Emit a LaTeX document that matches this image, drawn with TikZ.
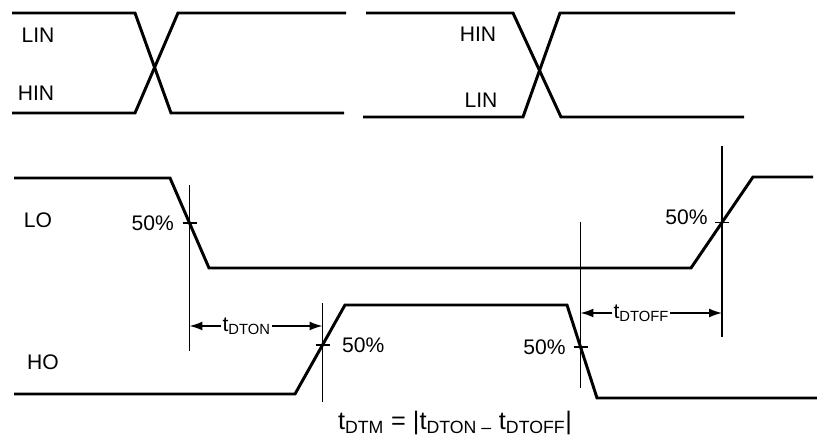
\documentclass[tikz,border=0pt]{standalone}
\usepackage{fontspec}
\setmainfont{Liberation Sans}
\usetikzlibrary{positioning,arrows.meta}

\begin{document}
\begin{tikzpicture}[
    wave/.style={line width=2.1pt, line join=miter},
    marker/.style={line width=1pt},
    lbl/.style={font=\fontsize{15}{18}\selectfont, inner sep=1pt},
    >={Latex[length=3.2mm,width=2.2mm]}]
    \useasboundingbox (0,0) rectangle (20.425,10.925);

    % inputs, first edge
    \draw[wave] (0.3,10.6) -- (3.375,10.6) -- (4.275,8.1) -- (8.6,8.1);
    \draw[wave] (0.3,8.1) -- (3.375,8.1) -- (4.45,10.6) -- (8.65,10.6);
    \node[lbl] (lin1) at (0.95,10.05) {LIN};
    \node[lbl] (hin1) at (0.9,8.6) {HIN};

    % inputs, second edge
    \draw[wave] (9.15,10.6) -- (12.825,10.6) -- (14.025,8.0) -- (18.6,8.0);
    \draw[wave] (9.075,8.0) -- (13.075,8.0) -- (14.0,10.6) -- (18.375,10.6);
    \node[lbl] (hin2) at (11.95,10.075) {HIN};
    \node[lbl] (lin2) at (12.025,8.425) {LIN};

    % outputs
    \draw[wave] (0.35,6.475) -- (4.25,6.475) -- coordinate[midway] (lo1) (5.225,4.225)
        -- (17.275,4.225) -- coordinate[midway] (lo2) (18.825,6.5) -- (20.325,6.5);
    \draw[wave] (0.35,1.075) -- (7.375,1.075) -- coordinate[pos=0.55] (ho1) (8.625,3.3)
        -- (14.175,3.3) -- coordinate[pos=0.45] (ho2) (14.925,0.975) -- (20.425,0.975);
    \node[lbl] (lo) at (0.95,5.425) {LO};
    \node[lbl] (ho) at (1.075,1.875) {HO};

    % 50% markers
    \foreach \p/\up/\dn in {lo1/0.95/3.2, lo2/1.9/2.875, ho1/1.05/1.42, ho2/3.12/1.03} {
        \draw[marker] ([yshift=\up cm]\p) -- ([yshift=-\dn cm]\p);
        \draw[marker] ([xshift=-0.175cm]\p) -- ([xshift=0.175cm]\p);
    }
    \node[lbl, left=0.35cm of lo1] (pa) {50\%};
    \node[lbl, left=0.32cm of lo2, yshift=0.12cm] (pb) {50\%};
    \node[lbl, right=0.45cm of ho1] (pc) {50\%};
    \node[lbl, left=0.33cm of ho2] (pd) {50\%};

    % dead times
    \coordinate (dton) at (0,2.775);
    \coordinate (dtoff) at (0,3.1);
    \draw[marker, <->] (lo1 |- dton) -- node[lbl, fill=white, pos=0.43] (ton) {t\textsubscript{DTON}} (ho1 |- dton);
    \draw[marker, <->] (ho2 |- dtoff) -- node[lbl, fill=white, pos=0.43] (toff) {t\textsubscript{DTOFF}} (lo2 |- dtoff);

    \node[lbl, font=\fontsize{18}{21}\selectfont] (dtm) at (11.375,0.35) {t\textsubscript{DTM} = |t\textsubscript{DTON –} t\textsubscript{DTOFF}|};
\end{tikzpicture}
\end{document}
